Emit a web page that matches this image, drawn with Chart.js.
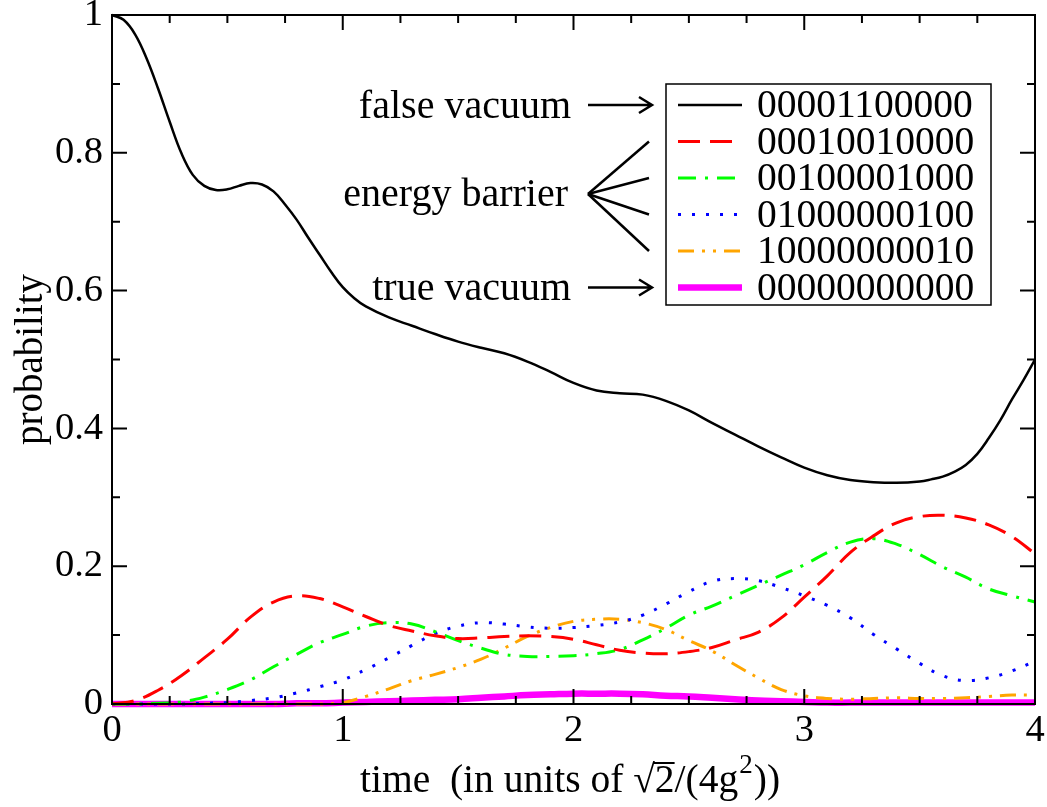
<!DOCTYPE html>
<html>
<head>
<meta charset="utf-8">
<script src="https://cdn.jsdelivr.net/npm/chart.js@4/dist/chart.umd.min.js"></script>
<style>
  html, body { margin: 0; padding: 0; background: #fff; }
  #wrap { width: 1047px; height: 807px; }
</style>
</head>
<body>
<div id="wrap"><canvas id="myChart"></canvas></div>
<script>
// ---------------- data ---------------- //
const times = [0, 0.1, 0.2, 0.3, 0.4, 0.5, 0.6, 0.7, 0.8, 0.9,
               1, 1.1, 1.2, 1.3, 1.4, 1.5, 1.6, 1.7, 1.8, 1.9,
               2, 2.1, 2.2, 2.3, 2.4, 2.5, 2.6, 2.7, 2.8, 2.9,
               3, 3.1, 3.2, 3.3, 3.4, 3.5, 3.6, 3.7, 3.8, 3.9, 4];

// the black curve bends fast, so it is read on a finer grid
const timesFine = [0, 0.05, 0.1, 0.15, 0.2, 0.25, 0.3, 0.35, 0.4, 0.45, 0.5, 0.55, 0.6, 0.65, 0.7, 0.75,
                   0.8, 0.85, 0.9, 0.95, 1, 1.05, 1.1, 1.2, 1.3, 1.4, 1.5, 1.6, 1.7, 1.8, 1.9,
                   2, 2.1, 2.2, 2.3, 2.4, 2.5, 2.6, 2.7, 2.8, 2.9, 3, 3.1, 3.2, 3.3, 3.4, 3.5,
                   3.55, 3.6, 3.65, 3.7, 3.75, 3.8, 3.85, 3.9, 3.95, 4];

const labels = ['00001100000', '00010010000', '00100001000', '01000000100', '10000000010', '00000000000'];

// false vacuum (on timesFine)
const s00001100000 = [1.0, 0.993, 0.972, 0.937, 0.893, 0.845, 0.800, 0.768, 0.752, 0.746, 0.747, 0.752, 0.756, 0.754, 0.744, 0.725,
                      0.703, 0.677, 0.652, 0.627, 0.605, 0.589, 0.577, 0.561, 0.549, 0.537, 0.526, 0.517, 0.509, 0.497, 0.482,
                      0.466, 0.455, 0.451, 0.449, 0.440, 0.426, 0.408, 0.391, 0.374, 0.358, 0.343, 0.332, 0.325, 0.322, 0.321, 0.323,
                      0.326, 0.330, 0.337, 0.347, 0.363, 0.386, 0.412, 0.442, 0.470, 0.50];
// energy barrier
const s00010010000 = [0, 0.005, 0.02, 0.041, 0.067, 0.094, 0.126, 0.148, 0.157, 0.153,
                      0.141, 0.127, 0.114, 0.106, 0.099, 0.095, 0.096, 0.098, 0.099, 0.098,
                      0.094, 0.086, 0.078, 0.074, 0.073, 0.076, 0.082, 0.093, 0.104, 0.125,
                      0.155, 0.186, 0.220, 0.244, 0.263, 0.272, 0.274, 0.270, 0.260, 0.243, 0.218];
const s00100001000 = [0, 0, 0.001, 0.003, 0.010, 0.021, 0.035, 0.054, 0.072, 0.089,
                      0.101, 0.113, 0.118, 0.116, 0.105, 0.092, 0.081, 0.072, 0.069, 0.069,
                      0.070, 0.073, 0.079, 0.093, 0.110, 0.129, 0.142, 0.157, 0.172, 0.187,
                      0.202, 0.220, 0.235, 0.240, 0.232, 0.217, 0.199, 0.184, 0.167, 0.157, 0.148];
const s01000000100 = [0, 0, 0, 0, 0.001, 0.002, 0.005, 0.009, 0.016, 0.025,
                      0.035, 0.050, 0.067, 0.085, 0.102, 0.113, 0.118, 0.116, 0.112, 0.110,
                      0.111, 0.114, 0.119, 0.129, 0.145, 0.163, 0.178, 0.182, 0.179, 0.169,
                      0.157, 0.143, 0.125, 0.101, 0.080, 0.059, 0.041, 0.034, 0.038, 0.048, 0.062];
const s10000000010 = [0, 0, 0, 0, 0, 0, 0, 0, 0, 0,
                      0.002, 0.011, 0.022, 0.034, 0.043, 0.053, 0.065, 0.081, 0.098, 0.111,
                      0.120, 0.123, 0.123, 0.118, 0.108, 0.092, 0.077, 0.057, 0.038, 0.021,
                      0.012, 0.008, 0.007, 0.008, 0.009, 0.008, 0.008, 0.009, 0.011, 0.013, 0.013];
// true vacuum
const s00000000000 = [0, 0, 0, 0, 0, 0, 0, 0, 0.001, 0.001,
                      0.002, 0.003, 0.004, 0.005, 0.006, 0.007, 0.009, 0.011, 0.013, 0.014,
                      0.015, 0.015, 0.015, 0.014, 0.012, 0.011, 0.009, 0.007, 0.005, 0.004,
                      0.003, 0.002, 0.002, 0.002, 0.002, 0.002, 0.002, 0.002, 0.002, 0.002, 0.002];

const xTicks = [0, 1, 2, 3, 4];
const yTicks = [0, 0.2, 0.4, 0.6, 0.8, 1];

const FONT = '"Liberation Serif", "Times New Roman", serif';

// 선 스타일 (색, 굵기, 점선 패턴)
const styles = [
  { color: '#000000', width: 2.5, dash: [] },
  { color: '#ff0000', width: 3,   dash: [22, 10] },
  { color: '#00ff00', width: 3,   dash: [18, 9, 3, 9] },
  { color: '#0000ff', width: 3,   dash: [3, 11] },
  { color: '#ffa500', width: 3,   dash: [16, 8, 3, 8, 3, 8] },
  { color: '#ff00ff', width: 6.5, dash: [] }
];
const series = [s00001100000, s00010010000, s00100001000, s01000000100, s10000000010, s00000000000];
const seriesTimes = [timesFine, times, times, times, times, times];

const datasets = series.map((s, k) => ({
  label: labels[k],
  data: seriesTimes[k].map((t, i) => ({ x: t, y: s[i] })),
  borderColor: styles[k].color,
  borderWidth: styles[k].width,
  borderDash: styles[k].dash,
  pointRadius: 0,
  tension: 0.4,
  clip: 6
}));

// ---------------- frame: box + inward ticks ---------------- //
const framePlugin = {
  id: 'frame',
  afterDatasetsDraw(chart) {
    const ctx = chart.ctx;
    const a = chart.chartArea;
    const xs = chart.scales.x, ys = chart.scales.y;
    ctx.save();
    ctx.strokeStyle = '#000';
    ctx.lineWidth = 2;
    ctx.setLineDash([]);
    ctx.strokeRect(a.left, a.top, a.right - a.left, a.bottom - a.top);
    // x ticks every 0.25, long at integers
    for (let k = 0; k <= 16; k++) {
      const px = xs.getPixelForValue(k / 4);
      const len = k % 4 === 0 ? 15 : 8;
      ctx.beginPath();
      ctx.moveTo(px, a.bottom); ctx.lineTo(px, a.bottom - len);
      ctx.moveTo(px, a.top); ctx.lineTo(px, a.top + len);
      ctx.stroke();
    }
    // y ticks every 0.1, long every 0.2
    for (let k = 0; k <= 10; k++) {
      const py = ys.getPixelForValue(k / 10);
      const len = k % 2 === 0 ? 15 : 8;
      ctx.beginPath();
      ctx.moveTo(a.left, py); ctx.lineTo(a.left + len, py);
      ctx.moveTo(a.right, py); ctx.lineTo(a.right - len, py);
      ctx.stroke();
    }
    ctx.restore();
  }
};

// ---------------- x axis title with sqrt bar and superscript ---------------- //
const xTitlePlugin = {
  id: 'xTitle',
  afterDraw(chart) {
    const ctx = chart.ctx;
    const base = 792;
    let x = 360;
    ctx.save();
    ctx.fillStyle = '#000';
    ctx.strokeStyle = '#000';
    ctx.textBaseline = 'alphabetic';
    ctx.textAlign = 'left';
    ctx.font = '39.5px ' + FONT;
    const put = (t) => { ctx.fillText(t, x, base); x += ctx.measureText(t).width; };
    put('time  (in units of \u221A');
    const x2 = x;
    put('2');
    // bar over the 2
    ctx.lineWidth = 2;
    ctx.beginPath();
    ctx.moveTo(x2 - 1, base - 29); ctx.lineTo(x, base - 29);
    ctx.stroke();
    put('/(4g');
    ctx.font = '27px ' + FONT;
    ctx.fillText('2', x + 1, base - 19);
    x += ctx.measureText('2').width + 2;
    ctx.font = '39.5px ' + FONT;
    put('))');
    ctx.restore();
  }
};

// ---------------- legend box + labels with arrows ---------------- //
function arrow(ctx, x1, y1, x2, y2) {
  ctx.beginPath();
  ctx.moveTo(x1, y1); ctx.lineTo(x2, y2);
  ctx.moveTo(x2 - 13, y2 - 8); ctx.lineTo(x2, y2); ctx.lineTo(x2 - 13, y2 + 8);
  ctx.stroke();
}

const legendPlugin = {
  id: 'boxLegend',
  afterDraw(chart) {
    const ctx = chart.ctx;
    const box = { left: 666, top: 84, right: 991, bottom: 305 };
    const row0 = 105, rowH = 36.5;
    ctx.save();
    ctx.fillStyle = '#fff';
    ctx.fillRect(box.left, box.top, box.right - box.left, box.bottom - box.top);
    ctx.strokeStyle = '#000';
    ctx.lineWidth = 1.5;
    ctx.strokeRect(box.left, box.top, box.right - box.left, box.bottom - box.top);

    ctx.font = '39.5px ' + FONT;
    ctx.textBaseline = 'middle';
    chart.data.datasets.forEach((ds, i) => {
      const y = row0 + i * rowH;
      ctx.strokeStyle = ds.borderColor;
      ctx.lineWidth = ds.borderWidth;
      ctx.setLineDash(ds.borderDash);
      ctx.beginPath();
      ctx.moveTo(678, y); ctx.lineTo(742, y);
      ctx.stroke();
      ctx.setLineDash([]);
      ctx.fillStyle = '#000';
      ctx.textAlign = 'left';
      ctx.fillText(ds.label, 757, y + 2);
    });

    // annotations on the left of the legend
    ctx.font = '40px ' + FONT;
    ctx.fillStyle = '#000';
    ctx.strokeStyle = '#000';
    ctx.lineWidth = 2.5;
    ctx.textAlign = 'right';
    ctx.fillText('false vacuum', 571, row0 + 2);
    arrow(ctx, 588, row0, 652, row0);
    ctx.fillText('energy barrier', 568, 195);
    for (let i = 1; i <= 4; i++) {
      ctx.beginPath();
      ctx.moveTo(588, 194);
      ctx.lineTo(649, row0 + i * rowH);
      ctx.stroke();
    }
    ctx.fillText('true vacuum', 571, row0 + 5 * rowH + 2);
    arrow(ctx, 588, row0 + 5 * rowH, 652, row0 + 5 * rowH);
    ctx.restore();
  }
};

const ctx = document.getElementById('myChart');

new Chart(ctx, {
  type: 'line',
  data: { datasets: datasets },
  options: {
    responsive: true,
    maintainAspectRatio: false,
    animation: false,
    layout: { padding: { top: 15, right: 12, left: 0, bottom: 0 } },
    plugins: {
      legend: { display: false },
      tooltip: { enabled: false }
    },
    scales: {
      x: {
        type: 'linear',
        min: 0, max: 4,
        grid: { display: false, drawTicks: false },
        border: { display: false },
        afterBuildTicks: (s) => { s.ticks = xTicks.map(v => ({ value: v })); },
        ticks: {
          color: '#000', padding: 4,
          font: { family: FONT, size: 38.5 },
          maxRotation: 0,
          callback: (v) => String(v)
        },
        title: { display: false },
        afterFit: (s) => { s.height = 103; s.paddingLeft = 0; s.paddingRight = 0; }
      },
      y: {
        min: 0, max: 1,
        grid: { display: false, drawTicks: false },
        border: { display: false },
        afterBuildTicks: (s) => { s.ticks = yTicks.map(v => ({ value: v })); },
        ticks: {
          color: '#000', padding: 9,
          font: { family: FONT, size: 38.5 },
          callback: (v) => String(+v.toFixed(1))
        },
        title: {
          display: true,
          text: 'probability',
          color: '#000',
          font: { family: FONT, size: 39 },
          padding: { top: 8, bottom: 0 }
        },
        afterFit: (s) => { s.width = 112; s.paddingTop = 0; s.paddingBottom = 0; }
      }
    }
  },
  plugins: [framePlugin, xTitlePlugin, legendPlugin]
});
</script>
</body>
</html>
